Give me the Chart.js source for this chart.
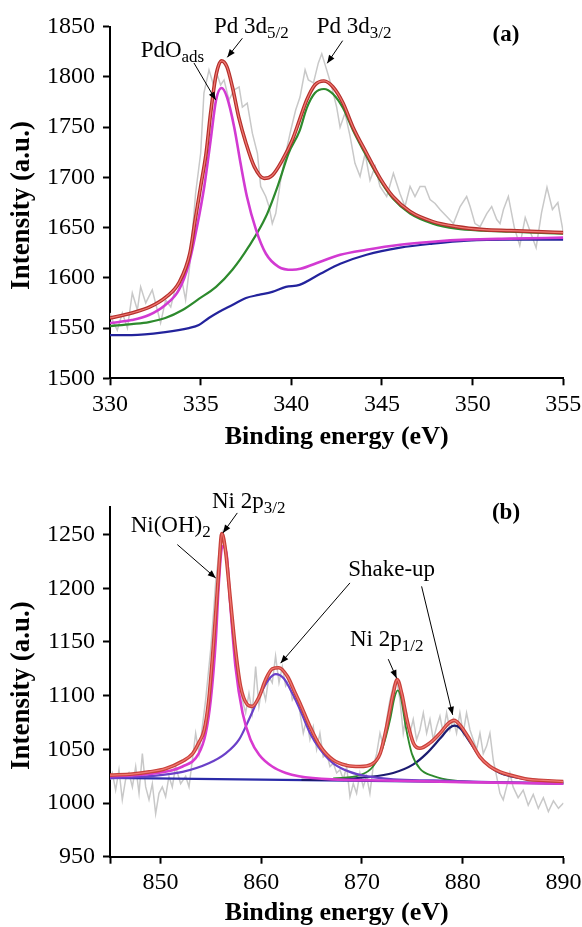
<!DOCTYPE html>
<html><head><meta charset="utf-8">
<script src="https://cdn.jsdelivr.net/npm/chart.js@4/dist/chart.umd.min.js"></script>
<style>
html,body{margin:0;padding:0;background:#fff;}
#wrap{position:relative;width:582px;height:927px;overflow:hidden;background:#fff}
canvas{position:absolute;left:0;top:0}
</style></head><body>
<div id="wrap"><canvas id="ca" width="582" height="927"></canvas><canvas id="cb" width="582" height="927"></canvas></div>
<script>
// ---------- Panel (a): Pd 3d ----------
const xTicksA = [330, 335, 340, 345, 350, 355];
const yTicksA = [1500, 1550, 1600, 1650, 1700, 1750, 1800, 1850];
const rawA = [[330,1565],[330.13,1558],[330.4,1548],[330.68,1565],[330.96,1550],[331.23,1585],[331.51,1568],[331.69,1591],[331.97,1575],[332.33,1588],[332.61,1568],[332.79,1555],[333.07,1578],[333.35,1571],[333.62,1591],[333.99,1595],[334.17,1578],[334.39,1611],[334.72,1684],[335.0,1724],[335.18,1784],[335.46,1807],[335.74,1790],[335.92,1802],[336.1,1792],[336.29,1797],[336.56,1777],[336.84,1787],[337.12,1790],[337.3,1770],[337.57,1774],[337.85,1744],[338.13,1724],[338.31,1691],[338.59,1681],[338.77,1671],[338.95,1654],[339.14,1664],[339.41,1697],[339.69,1724],[339.97,1747],[340.24,1767],[340.48,1780],[340.76,1807],[340.94,1797],[341.22,1794],[341.49,1814],[341.68,1823],[341.95,1807],[342.23,1790],[342.5,1770],[342.69,1750],[342.96,1764],[343.24,1741],[343.51,1714],[343.79,1701],[344.07,1724],[344.34,1697],[344.62,1711],[344.89,1691],[345.26,1681],[345.63,1704],[345.99,1684],[346.27,1671],[346.55,1691],[346.82,1681],[347.1,1691],[347.37,1691],[347.65,1678],[347.93,1674],[348.2,1668],[348.57,1661],[348.94,1654],[349.31,1671],[349.67,1681],[349.86,1671],[350.13,1654],[350.41,1651],[350.78,1664],[351.05,1671],[351.33,1658],[351.51,1654],[351.7,1668],[351.97,1681],[352.3,1650],[352.6,1632],[352.9,1660],[353.2,1645],[353.5,1630],[353.8,1665],[354.1,1690],[354.4,1668],[354.7,1675],[355,1645]];
const sumA = [[330,1560],[331.2,1565],[332.2,1571],[333.1,1581],[333.8,1595],[334.4,1624],[334.7,1658],[335.0,1691],[335.3,1724],[335.55,1764],[335.85,1802],[336.15,1816],[336.45,1810],[336.75,1790],[337.1,1760],[337.5,1734],[337.95,1711],[338.5,1699],[338.95,1702],[339.5,1717],[340.05,1737],[340.45,1757],[340.85,1777],[341.3,1792],[341.8,1796],[342.3,1790],[342.85,1774],[343.4,1750],[344.15,1724],[344.9,1699],[345.6,1681],[346.55,1666],[347.8,1656],[349.1,1651],[350.6,1648],[352.1,1647],[353.5,1646],[355,1645]];
const pdoA = [[330,1555],[331.2,1558],[332.15,1563],[333.05,1573],[333.8,1588],[334.35,1614],[334.8,1651],[335.2,1691],[335.55,1737],[335.85,1777],[336.15,1789],[336.45,1780],[336.85,1750],[337.2,1714],[337.55,1681],[338.05,1648],[338.6,1624],[339.3,1611],[340.05,1608],[340.5,1609],[341.6,1616],[342.7,1623],[344.15,1628],[346,1633],[347.8,1636],[349.7,1638],[352.05,1639],[355,1640]];
const pd32A = [[330,1552],[331.2,1554],[332.15,1556],[333.05,1560],[334,1568],[334.9,1579],[335.85,1591],[336.75,1608],[337.65,1631],[338.6,1661],[339.3,1694],[339.85,1724],[340.45,1746],[340.85,1769],[341.3,1784],[341.8,1788],[342.3,1783],[342.85,1769],[343.4,1747],[344.15,1721],[344.9,1697],[345.6,1679],[346.55,1664],[347.8,1654],[349.1,1649],[350.6,1647],[352.05,1646],[355,1644]];
const bgA = [[330,1543],[331.2,1543],[333.05,1546],[334.35,1550],[334.9,1553],[335.45,1560],[336,1566],[336.75,1573],[337.5,1580],[338.2,1583],[338.95,1586],[339.7,1591],[340.45,1593],[341.6,1604],[342.7,1614],[344.15,1623],[346,1630],[347.8,1634],[349.7,1637],[352.05,1638],[355,1638]];

// ---------- Panel (b): Ni 2p ----------
const xTicksB = [845, 850, 860, 870, 880, 890];
const xLabelsB = ['', '850', '860', '870', '880', '890'];
const yTicksB = [950, 1000, 1050, 1100, 1150, 1200, 1250];
const rawB = [[845.0,1022],[845.23,1028],[845.56,1012],[845.89,1031],[846.22,1003],[846.55,1022],[846.88,1028],[847.22,1015],[847.55,1034],[847.88,1009],[848.21,1046],[848.54,1015],[848.87,1003],[849.2,1018],[849.53,990],[849.86,1009],[850.19,1015],[850.52,1006],[850.85,1025],[851.18,1015],[851.51,1034],[852.01,1018],[852.51,1025],[852.84,1015],[853.17,1040],[853.5,1065],[853.83,1046],[854.16,1071],[854.49,1096],[854.99,1143],[855.32,1183],[855.48,1205],[855.81,1233],[855.98,1245],[856.21,1253],[856.47,1239],[856.81,1196],[857.14,1158],[857.47,1146],[857.8,1121],[858.13,1096],[858.46,1084],[858.79,1102],[859.12,1084],[859.45,1127],[859.78,1090],[860.11,1109],[860.44,1096],[860.77,1118],[861.1,1112],[861.43,1137],[861.77,1112],[862.1,1127],[862.43,1109],[862.76,1115],[863.09,1096],[863.42,1102],[863.75,1090],[864.18,1065],[864.51,1078],[864.84,1059],[865.17,1071],[865.5,1050],[865.83,1065],[866.16,1043],[866.5,1046],[866.83,1034],[867.16,1037],[867.49,1028],[867.82,1031],[868.15,1022],[868.48,1034],[868.81,1006],[869.14,1018],[869.47,1009],[869.8,1028],[870.13,1015],[870.46,1025],[870.79,1009],[871.12,1034],[871.46,1046],[871.79,1065],[872.12,1053],[872.45,1078],[872.78,1096],[873.11,1109],[873.44,1115],[873.77,1096],[874.1,1065],[874.43,1084],[874.76,1065],[875.09,1078],[875.42,1059],[875.75,1068],[876.09,1084],[876.42,1065],[876.75,1078],[877.08,1059],[877.41,1071],[877.74,1081],[878.07,1065],[878.4,1084],[878.73,1068],[879.06,1078],[879.39,1065],[879.72,1084],[880.05,1065],[880.38,1084],[880.72,1068],[881.05,1059],[881.38,1050],[881.71,1065],[882.04,1046],[882.37,1053],[882.7,1065],[883.03,1040],[883.36,1025],[883.69,1009],[884.02,1003],[884.35,1015],[884.68,1028],[885,1015],[885.5,1005],[886,1012],[886.5,998],[887,1008],[887.5,995],[888,1005],[888.5,992],[889,1002],[889.5,995],[890,1000]];
const sumB = [[845,1026],[847.2,1027],[848.9,1029],[850.5,1032],[852.2,1039],[853.2,1046],[853.8,1056],[854.35,1068],[854.8,1096],[855.3,1152],[855.75,1211],[856.1,1251],[856.45,1236],[856.95,1189],[857.45,1143],[857.95,1109],[858.6,1092],[859.1,1090],[859.8,1099],[860.45,1115],[861.1,1125],[861.75,1126],[862.6,1118],[863.4,1102],[863.85,1093],[864.85,1071],[865.85,1053],[867.15,1040],[868.5,1035],[869.8,1034],[870.95,1036],[871.8,1046],[872.45,1071],[873.1,1102],[873.5,1115],[873.95,1102],[874.45,1078],[875.1,1056],[875.75,1051],[876.75,1056],[877.75,1065],[878.55,1074],[879.15,1077],[879.7,1073],[880.7,1059],[881.7,1043],[882.7,1034],[883.7,1029],[884.7,1026],[886.5,1022],[888,1021],[890,1020]];
const niohB = [[845,1025],[848.9,1027],[852.2,1034],[853.8,1046],[854.5,1065],[855,1096],[855.5,1152],[855.8,1205],[856.15,1239],[856.55,1233],[856.95,1183],[857.45,1127],[858.15,1084],[858.95,1059],[859.8,1045],[861.1,1034],[862.45,1028],[863.75,1025],[867,1022],[872,1021],[880,1019.5],[890,1018]];
const shake1B = [[845,1023],[848.9,1025],[852.2,1029],[854.8,1037],[856.45,1046],[857.8,1059],[858.8,1078],[859.8,1099],[860.75,1115],[861.45,1120],[862.25,1116],[863.1,1102],[863.85,1087],[864.85,1065],[865.85,1050],[867.15,1037],[868.8,1029],[870.45,1025],[873.1,1022],[877.1,1021],[884.7,1019],[890,1018]];
const p12B = [[867.15,1023],[869.8,1026],[871.1,1034],[872.1,1053],[872.8,1078],[873.25,1099],[873.55,1105],[873.85,1099],[874.35,1071],[874.95,1046],[875.75,1032],[877.1,1025],[879.05,1021],[884,1019],[890,1018]];
const shake2B = [[864,1021.5],[867.15,1022],[870.45,1024],[873.1,1028],[875.1,1036],[876.4,1046],[877.75,1060],[878.7,1070],[879.2,1072],[879.7,1070],[880.7,1057],[881.7,1043],[882.7,1034],[883.7,1028],[884.7,1025],[886.5,1022],[890,1020]];
const bgB = [[845,1023.5],[890,1018.5]];

// ---------- annotations ----------
const notesA = [
  {segs:[{t:'PdO'},{t:'ads',sub:true}], x:331.69, y:1820, arrow:[334.63,1813.9,335.83,1777]},
  {segs:[{t:'Pd 3d'},{t:'5/2',sub:true}], x:335.74, y:1843.7, arrow:[337.3,1838.5,336.47,1819.5]},
  {segs:[{t:'Pd 3d'},{t:'3/2',sub:true}], x:341.4, y:1843.7, arrow:[342.83,1836.1,341.98,1813.6]}
];
const notesB = [
  {segs:[{t:'Ni(OH)'},{t:'2',sub:true}], x:847.05, y:1252, arrow:[851.68,1240.7,855.49,1209.6]},
  {segs:[{t:'Ni 2p'},{t:'3/2',sub:true}], x:855.12, y:1275, arrow:[857.63,1270.2,856.21,1251.6]},
  {segs:[{t:'Shake-up'}], x:868.64, y:1211, arrow:[868.81,1205,861.93,1130.3], arrow2:[875.92,1201.8,879.0,1082.1]},
  {segs:[{t:'Ni 2p'},{t:'1/2',sub:true}], x:868.81, y:1145.8, arrow:[872.61,1134,873.44,1116.3]}
];

const FONT = '"Liberation Serif", "Times New Roman", serif';

function pts(a){ return a.map(p => ({x:p[0], y:p[1]})); }
function line(data, color, width, smooth){
  return {data: pts(data), showLine:true, borderColor:color, backgroundColor:color, borderWidth:width,
    pointRadius:0, pointHoverRadius:0, fill:false, tension: smooth?0.4:0,
    cubicInterpolationMode: smooth?'monotone':'default'};
}

function drawRich(ctx, x, y, segs, size){
  let cx = x;
  ctx.textBaseline = 'alphabetic';
  ctx.textAlign = 'left';
  for (const s of segs){
    const fs = s.sub ? 17 : size;
    ctx.font = fs + 'px ' + FONT;
    ctx.fillText(s.t, cx, y + (s.sub ? 5 : 0));
    cx += ctx.measureText(s.t).width;
  }
}
function drawArrow(ctx, x1, y1, x2, y2){
  ctx.beginPath(); ctx.moveTo(x1,y1); ctx.lineTo(x2,y2); ctx.stroke();
  const a = Math.atan2(y2-y1, x2-x1), L = 8, W = 3.2;
  ctx.beginPath();
  ctx.moveTo(x2,y2);
  ctx.lineTo(x2 - L*Math.cos(a) + W*Math.sin(a), y2 - L*Math.sin(a) - W*Math.cos(a));
  ctx.lineTo(x2 - L*Math.cos(a) - W*Math.sin(a), y2 - L*Math.sin(a) + W*Math.cos(a));
  ctx.closePath(); ctx.fill();
}

function decor(cfg){
  return {
    id:'decor'+cfg.panel,
    afterDraw(chart){
      const ctx = chart.ctx, ca = chart.chartArea, sx = chart.scales.x, sy = chart.scales.y;
      ctx.save();
      ctx.fillStyle = '#000'; ctx.strokeStyle = '#000'; ctx.lineWidth = 1;
      // axis titles
      ctx.font = 'bold 26px ' + FONT;
      ctx.textAlign = 'center'; ctx.textBaseline = 'alphabetic';
      ctx.fillText('Binding energy (eV)', (ca.left+ca.right)/2, ca.bottom + cfg.xTitleGap);
      ctx.save();
      ctx.translate(22, (ca.top+ca.bottom)/2 + cfg.yTitleShift);
      ctx.rotate(-Math.PI/2);
      ctx.font = 'bold 27px ' + FONT;
      ctx.textBaseline = 'middle';
      ctx.fillText('Intensity (a.u.)', 0, 0);
      ctx.restore();
      // panel label
      ctx.font = 'bold 23px ' + FONT;
      ctx.textAlign = 'left'; ctx.textBaseline = 'alphabetic';
      ctx.fillText(cfg.panel, sx.getPixelForValue(cfg.px), sy.getPixelForValue(cfg.py));
      // notes
      for (const n of cfg.notes){
        drawRich(ctx, sx.getPixelForValue(n.x), sy.getPixelForValue(n.y), n.segs, 23);
        for (const ar of [n.arrow, n.arrow2]){
          if (!ar) continue;
          drawArrow(ctx, sx.getPixelForValue(ar[0]), sy.getPixelForValue(ar[1]), sx.getPixelForValue(ar[2]), sy.getPixelForValue(ar[3]));
        }
      }
      ctx.restore();
    }
  };
}

function axisCommon(){
  return {
    grid:{display:true, drawOnChartArea:false, drawTicks:true, tickLength:7, tickWidth:2, tickColor:'#000'},
    border:{display:true, color:'#000', width:2}
  };
}

function makeChart(id, cfg){
  return new Chart(document.getElementById(id), {
    type:'scatter',
    data:{datasets: cfg.datasets},
    options:{
      responsive:false, animation:false, devicePixelRatio:1,
      layout:{padding:{left:0, top:cfg.top, right:cfg.right, bottom:cfg.bottom}},
      plugins:{legend:{display:false}, tooltip:{enabled:false}},
      scales:{
        x:Object.assign(axisCommon(), {
          type:'linear', min:cfg.xmin, max:cfg.xmax,
          afterBuildTicks: s => { s.ticks = cfg.xTicks.map(v => ({value:v})); },
          afterFit: s => { s.height = 60; s.paddingLeft = 0; s.paddingRight = 0; },
          ticks:{font:{family:FONT, size:24}, color:'#000', padding:5, maxRotation:0, minRotation:0, autoSkip:false,
            callback: (v, i) => cfg.xLabels ? cfg.xLabels[i] : String(v)}
        }),
        y:Object.assign(axisCommon(), {
          type:'linear', min:cfg.ymin, max:cfg.ymax,
          afterBuildTicks: s => { s.ticks = cfg.yTicks.map(v => ({value:v})); },
          afterFit: s => { s.width = 110; s.paddingTop = 0; s.paddingBottom = 0; },
          ticks:{font:{family:FONT, size:24}, color:'#000', padding:8, autoSkip:false,
            callback: v => String(v)}
        })
      }
    },
    plugins:[decor(cfg)]
  });
}

const RED_O = '#b3302c', RED_I = '#f27a74';

makeChart('ca', {
  panel:'(a)', px:351.1, py:1836, yTitleShift:3, xTitleGap:66,
  notes: notesA,
  top:26.7, right:18.7, bottom:927-378.3-60,
  xmin:330, xmax:355, ymin:1500, ymax:1850,
  xTicks:xTicksA, yTicks:yTicksA,
  datasets:[
    line(sumA, RED_I, 1.2, true),
    line(sumA, RED_O, 3.6, true),
    line(pdoA, '#d23ad2', 2.6, true),
    line(pd32A, '#2d8a2d', 2.2, true),
    line(bgA, '#23239c', 2.2, true),
    line(rawA, '#c8c8c8', 1.5, false)
  ]
});

makeChart('cb', {
  panel:'(b)', px:882.9, py:1265, yTitleShift:4, xTitleGap:63,
  notes: notesB,
  top:506.7, right:18.5, bottom:927-856.7-60,
  xmin:845, xmax:890, ymin:950, ymax:1276,
  xTicks:xTicksB, xLabels:xLabelsB, yTicks:yTicksB,
  datasets:[
    line(sumB, RED_I, 1.2, true),
    line(sumB, '#c8403a', 3.6, true),
    line(niohB, '#d83ad0', 2.6, true),
    line(shake1B, '#6a40c8', 2.2, true),
    line(p12B, '#2d8a2d', 1.8, true),
    line(shake2B, '#1c1c70', 2.2, true),
    line(bgB, '#2a2aa8', 2.2, false),
    line(rawB, '#c8c8c8', 1.5, false)
  ]
});
</script>
</body></html>
